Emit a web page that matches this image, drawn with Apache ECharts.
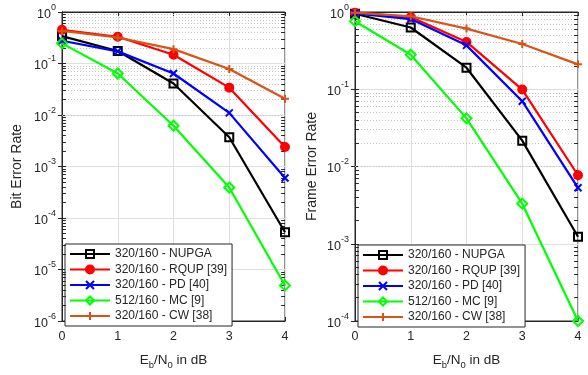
<!DOCTYPE html>
<html><head><meta charset="utf-8">
<script src="https://cdn.jsdelivr.net/npm/echarts@6/dist/echarts.min.js"></script>
<style>html,body{margin:0;padding:0;background:#fff}#c{width:588px;height:375px}</style>
</head><body><div id="c"></div>
<script>
const ebn0 = [0, 1, 2, 3, 4];
const seriesNames = ['320/160 - NUPGA', '320/160 - RQUP [39]', '320/160 - PD [40]', '512/160 - MC [9]', '320/160 - CW [38]'];
const berNUPGA = [0.34, 0.175, 0.041, 0.0037, 5.3e-5];
const berRQUP  = [0.45, 0.33, 0.148, 0.034, 0.0024];
const berPD    = [0.276, 0.172, 0.064, 0.011, 6e-4];
const berMC    = [0.246, 0.064, 0.0062, 3.9e-4, 4.9e-6];
const berCW    = [0.43, 0.32, 0.19, 0.078, 0.0206];
const ferNUPGA = [0.95, 0.63, 0.19, 0.0216, 1.23e-3];
const ferRQUP  = [0.98, 0.86, 0.41, 0.099, 0.0077];
const ferPD    = [0.96, 0.81, 0.37, 0.07, 0.0053];
const ferMC    = [0.76, 0.28, 0.042, 0.0033, 1e-4];
const ferCW    = [0.98, 0.88, 0.61, 0.385, 0.21];
const xTicks = [0, 1, 2, 3, 4];

const colors = ['#000000', '#ff0000', '#0000ff', '#00ff00', '#d95319'];
const symbols = ['rect', 'circle', 'path://M0,0L10,10M10,0L0,10', 'diamond', 'path://M5,0L5,10M0,5L10,5'];
const symSizes = [8, 8, 7, 10, 8];
const filled = [false, true, false, false, false];

const axisCol = '#262626';
const gridCol = '#e0e0e0';
const FONT = 'Liberation Sans';

function minorVals(minExp, maxExp) {
  const v = [];
  for (let e = minExp; e < maxExp; e++) for (let m = 2; m <= 9; m++) v.push(m * Math.pow(10, e));
  return v;
}

function supLabel(v) {
  const e = Math.round(Math.log10(v));
  return '{b|10}{s|' + e + '}';
}
const supRich = {
  b: {fontSize: 12.5, color: axisCol, fontFamily: FONT, verticalAlign: 'bottom', lineHeight: 18, padding: [6, 0, 0, 0]},
  s: {fontSize: 9, color: axisCol, fontFamily: FONT, verticalAlign: 'top', lineHeight: 10}
};
const nameRich = {
  n: {fontSize: 13.5, color: axisCol, fontFamily: FONT},
  sub: {fontSize: 9.5, color: axisCol, fontFamily: FONT, padding: [9, 0, 0, 0]}
};

const grids = [
  {left: 62, right: 303, top: 12, bottom: 47, show: true, borderColor: axisCol, borderWidth: 1, backgroundColor: '#fff'},
  {left: 355, right: 10, top: 12, bottom: 47, show: true, borderColor: axisCol, borderWidth: 1, backgroundColor: '#fff'}
];

function mkX(gi, pos, showLabel) {
  return {
    type: 'value', gridIndex: gi, min: 0, max: 4, interval: 1, position: pos,
    axisLine: {show: true, lineStyle: {color: axisCol}},
    axisTick: {show: true, inside: true, length: 4, lineStyle: {color: axisCol}},
    axisLabel: {show: showLabel, color: axisCol, fontSize: 12.5, fontFamily: FONT, margin: 9,
      formatter: v => xTicks.includes(v) ? String(v) : ''},
    splitLine: {show: showLabel, lineStyle: {color: gridCol, width: 1}},
    name: showLabel ? '{n|E}{sub|b}{n|/N}{sub|0}{n| in dB}' : '',
    nameLocation: 'middle', nameGap: 30,
    nameTextStyle: {rich: nameRich}
  };
}
function mkY(gi, pos, showLabel, minV, name, gap) {
  return {
    type: 'log', logBase: 10, gridIndex: gi, min: minV, max: 1, position: pos,
    axisLine: {show: true, lineStyle: {color: axisCol}},
    axisTick: {show: true, inside: true, length: 4, lineStyle: {color: axisCol}},
    axisLabel: {show: showLabel, formatter: supLabel, rich: supRich, margin: 6},
    splitLine: {show: showLabel, lineStyle: {color: gridCol, width: 1}},
    name: showLabel ? name : '', nameLocation: 'middle', nameGap: gap,
    nameTextStyle: {fontSize: 14, color: axisCol, fontFamily: FONT}
  };
}

const xAxes = [mkX(0, 'bottom', true), mkX(0, 'top', false), mkX(1, 'bottom', true), mkX(1, 'top', false)];
const yAxes = [mkY(0, 'left', true, 1e-6, 'Bit Error Rate', 38), mkY(0, 'right', false, 1e-6, '', 0),
               mkY(1, 'left', true, 1e-4, 'Frame Error Rate', 36), mkY(1, 'right', false, 1e-4, '', 0)];

function minorGridSeries(xi, yi, minExp) {
  const vals = minorVals(minExp, 0);
  const data = vals.map(v => ({yAxis: v}));
  const ticks = [];
  vals.forEach(v => {
    ticks.push([{coord: [0, v]}, {coord: [0.07, v]}]);
    ticks.push([{coord: [3.93, v]}, {coord: [4, v]}]);
  });
  return [{
    type: 'line', xAxisIndex: xi, yAxisIndex: yi, data: [], silent: true, z: 1,
    markLine: {silent: true, symbol: 'none', label: {show: false}, animation: false,
      lineStyle: {color: '#c4c4c4', type: [1, 2], width: 1}, data: data}
  }, {
    type: 'line', xAxisIndex: xi, yAxisIndex: yi, data: [], silent: true, z: 5,
    markLine: {silent: true, symbol: 'none', label: {show: false}, animation: false,
      lineStyle: {color: axisCol, type: 'solid', width: 1}, data: ticks}
  }];
}

const berSets = [berNUPGA, berRQUP, berPD, berMC, berCW];
const ferSets = [ferNUPGA, ferRQUP, ferPD, ferMC, ferCW];

function dataSeries(sets, xi, yi) {
  return sets.map((vals, i) => ({
    name: seriesNames[i], type: 'line', xAxisIndex: xi, yAxisIndex: yi,
    data: ebn0.map((x, k) => [x, vals[k]]),
    symbol: symbols[i], symbolSize: symSizes[i], showAllSymbol: true,
    lineStyle: {color: colors[i], width: 2.2},
    itemStyle: {color: filled[i] ? colors[i] : 'rgba(255,255,255,0)', borderColor: colors[i], borderWidth: 2},
    z: 10 + i, animation: false
  }));
}

const series = [].concat(
  minorGridSeries(0, 0, -6), minorGridSeries(2, 2, -4),
  dataSeries(berSets, 0, 0), dataSeries(ferSets, 2, 2)
);

function mkLegend(left, top) {
  return {
    data: seriesNames, orient: 'vertical', left: left, top: top,
    backgroundColor: '#fff', borderColor: axisCol, borderWidth: 1, borderRadius: 0,
    padding: [3, 5, 3, 4], itemGap: 1.5, itemWidth: 40, itemHeight: 10,
    textStyle: {fontSize: 12, color: axisCol, fontFamily: FONT, lineHeight: 14},
    selectedMode: false
  };
}

const chart = echarts.init(document.getElementById('c'), null, {renderer: 'canvas'});
chart.setOption({
  animation: false,
  backgroundColor: '#fff',
  grid: grids,
  xAxis: xAxes,
  yAxis: yAxes,
  legend: [mkLegend(65, 244), mkLegend(358, 245)],
  series: series
});
</script></body></html>
